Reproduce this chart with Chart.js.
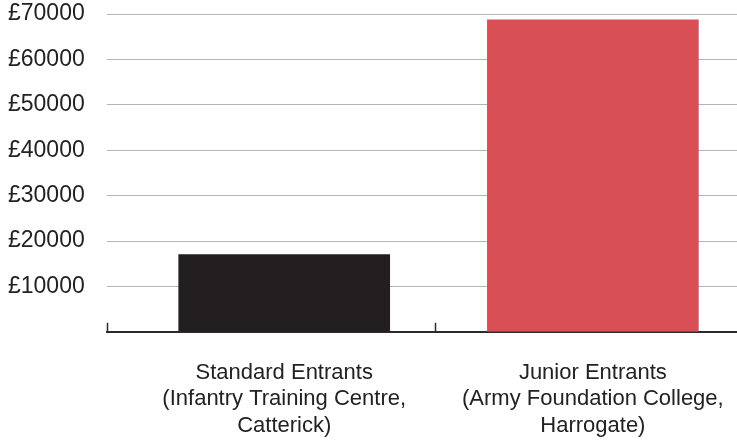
<!DOCTYPE html>
<html>
<head>
<meta charset="utf-8">
<script src="https://cdn.jsdelivr.net/npm/chart.js@4/dist/chart.umd.min.js"></script>
<style>
  html, body { margin: 0; padding: 0; background: #fff; }
  #wrap { width: 737px; height: 444px; position: relative; }
</style>
</head>
<body>
<div id="wrap"><canvas id="costChart"></canvas></div>
<script>
// cost per recruit
const categories = [
    ["Standard Entrants", "(Infantry Training Centre,", "Catterick)"],
    ["Junior Entrants", "(Army Foundation College,", "Harrogate)"]
];
const costs = [17000, 68700];
const barColors = ["#231f20", "#d85055"];
const yTicks = [10000, 20000, 30000, 40000, 50000, 60000, 70000];

// x runs on a linear scale so bars can sit off-centre like the original
const xMin = -0.575, xMax = 1.467, xSplit = 0.488;

// little upward ticks on the baseline (left end + between groups)
const baseTicks = {
    id: "baseTicks",
    afterDraw(chart) {
        const x = chart.scales.x, y = chart.scales.y;
        const ctx = chart.ctx;
        const y0 = y.getPixelForValue(0);
        ctx.save();
        ctx.strokeStyle = "#2b2b2b";
        ctx.lineWidth = 1.5;
        [xMin, xSplit].forEach(v => {
            const px = Math.round(x.getPixelForValue(v)) + 0.5;
            ctx.beginPath();
            ctx.moveTo(px, y0 - 9);
            ctx.lineTo(px, y0);
            ctx.stroke();
        });
        ctx.restore();
    }
};

const fontFam = "'Liberation Sans', Arial, Helvetica, sans-serif";

new Chart(document.getElementById("costChart"), {
    type: "bar",
    data: {
        datasets: [{
            data: costs.map((v, i) => ({ x: i, y: v })),
            backgroundColor: barColors,
            borderWidth: 0,
            barThickness: 211
        }]
    },
    options: {
        responsive: true,
        maintainAspectRatio: false,
        animation: false,
        layout: { padding: { left: 8, top: 14, right: 0, bottom: 5 } },
        plugins: {
            legend: { display: false },
            tooltip: { enabled: false }
        },
        scales: {
            x: {
                type: "linear",
                min: xMin,
                max: xMax,
                offset: false,
                afterBuildTicks: (scale) => {
                    scale.ticks = categories.map((c, i) => ({ value: i }));
                },
                ticks: {
                    autoSkip: false,
                    maxRotation: 0,
                    padding: 0,
                    color: "#222",
                    font: { family: fontFam, size: 22, lineHeight: 1.2 },
                    callback: (v, i) => categories[i]
                },
                // invisible tick marks used only as spacing under the axis
                grid: {
                    offset: false,
                    drawOnChartArea: false,
                    drawTicks: true,
                    tickLength: 28,
                    tickColor: "rgba(0,0,0,0)"
                },
                border: { display: true, color: "#2b2b2b", width: 2 }
            },
            y: {
                min: 0,
                max: 70000,
                afterBuildTicks: (scale) => {
                    scale.ticks = [0].concat(yTicks).map(v => ({ value: v }));
                },
                ticks: {
                    padding: 0,
                    color: "#222",
                    font: { family: fontFam, size: 23 },
                    callback: (v) => v === 0 ? "" : "£" + v
                },
                grid: {
                    drawTicks: true,
                    tickLength: 22,
                    tickColor: "rgba(0,0,0,0)",
                    color: (c) => c.tick && c.tick.value === 0 ? "rgba(0,0,0,0)" : "#b3b3b3",
                    lineWidth: 1
                },
                border: { display: false }
            }
        }
    },
    plugins: [baseTicks]
});
</script>
</body>
</html>
